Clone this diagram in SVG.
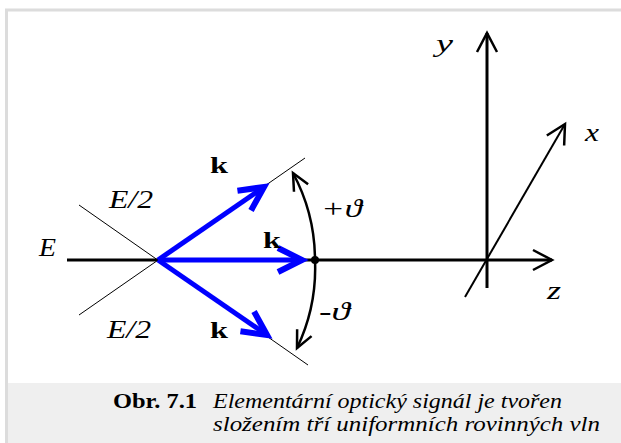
<svg xmlns="http://www.w3.org/2000/svg" width="621" height="443" viewBox="0 0 621 443">
  <style>
    .thin { stroke:#000; stroke-width:1; fill:none; }
    .axis { stroke:#000; stroke-width:3; fill:none; }
    .blue { stroke:#0000ff; stroke-width:5; fill:none; }
  </style>
  <defs>
    <marker id="ab" markerUnits="userSpaceOnUse" orient="auto" markerWidth="40" markerHeight="40" viewBox="-30 -20 40 40" refX="0" refY="0" overflow="visible">
      <path d="M-24,-12 L0,0 L-24,12" stroke="#0000ff" stroke-width="6" fill="none" stroke-linejoin="miter"/>
    </marker>
    <marker id="ak" markerUnits="userSpaceOnUse" orient="auto" markerWidth="40" markerHeight="40" viewBox="-30 -20 40 40" refX="0" refY="0" overflow="visible">
      <path d="M-19,-10 L0,0 L-19,10" stroke="#000" stroke-width="2.5" fill="none"/>
    </marker>
    <marker id="aa" markerUnits="userSpaceOnUse" orient="auto-start-reverse" markerWidth="40" markerHeight="40" viewBox="-30 -20 40 40" refX="0" refY="0" overflow="visible">
      <path d="M-17,-8 L0,0 L-17,8" stroke="#000" stroke-width="2.5" fill="none"/>
    </marker>
  </defs>

  <rect x="0" y="0" width="621" height="443" fill="#fff"/>
  <g id="frame">
    <rect x="8" y="383" width="613" height="60" fill="#efefef"/>
    <line x1="5" y1="10" x2="621" y2="10" stroke="#dcdcdc" stroke-width="3"/>
    <line x1="6.5" y1="9" x2="6.5" y2="443" stroke="#dcdcdc" stroke-width="3"/>
  </g>

  <g id="connectors">
    <line class="thin" x1="79" y1="205" x2="308" y2="365"/>
    <line class="thin" x1="79" y1="315" x2="305" y2="158"/>
    <line class="axis" x1="67" y1="260" x2="552" y2="260" marker-end="url(#ak)"/>
    <line class="axis" x1="487" y1="288" x2="487" y2="33" marker-end="url(#ak)"/>
    <line class="axis" style="stroke-width:2" x1="465" y1="297" x2="565" y2="124" marker-end="url(#ak)"/>
    <line class="blue" x1="158" y1="260" x2="264" y2="187" marker-end="url(#ab)"/>
    <line class="blue" x1="158" y1="260" x2="302" y2="260" marker-end="url(#ab)"/>
    <line class="blue" x1="158" y1="260" x2="267" y2="335" marker-end="url(#ab)"/>
    <path d="M293,173 A185,185 0 0 1 315,260 A185,185 0 0 1 297,348" stroke="#000" stroke-width="2.5" fill="none" marker-start="url(#aa)" marker-end="url(#aa)"/>
  </g>

  <g id="point">
    <circle cx="315" cy="260" r="4" fill="#000"/>
  </g>

  <g id="labels" font-family="Liberation Serif, serif" font-style="italic" font-size="26" fill="#000">
    <text x="39" y="256" textLength="17" lengthAdjust="spacingAndGlyphs">E</text>
    <text x="109" y="208" textLength="44" lengthAdjust="spacingAndGlyphs">E/2</text>
    <text x="107" y="338" textLength="44" lengthAdjust="spacingAndGlyphs">E/2</text>
    <text x="210" y="173" font-style="normal" font-weight="bold" font-size="23" textLength="18" lengthAdjust="spacingAndGlyphs">k</text>
    <text x="263" y="248" font-style="normal" font-weight="bold" font-size="23" textLength="18" lengthAdjust="spacingAndGlyphs">k</text>
    <text x="210" y="338" font-style="normal" font-weight="bold" font-size="23" textLength="18" lengthAdjust="spacingAndGlyphs">k</text>
    <text x="321" y="217" textLength="41" lengthAdjust="spacingAndGlyphs">+ϑ</text>
    <text x="319" y="320" textLength="31" lengthAdjust="spacingAndGlyphs">-ϑ</text>
    <text x="436" y="52" textLength="17" lengthAdjust="spacingAndGlyphs">y</text>
    <text x="585" y="141" textLength="14" lengthAdjust="spacingAndGlyphs">x</text>
    <text x="547" y="299" textLength="14" lengthAdjust="spacingAndGlyphs">z</text>
  </g>

  <g id="caption" font-family="Liberation Serif, serif" font-size="22" fill="#000">
    <text x="113" y="408" font-weight="bold" textLength="84" lengthAdjust="spacingAndGlyphs">Obr. 7.1</text>
    <text x="213" y="408" font-style="italic" textLength="349" lengthAdjust="spacingAndGlyphs">Elementární optický signál je tvořen</text>
    <text x="213" y="431" font-style="italic" textLength="387" lengthAdjust="spacingAndGlyphs">složením tří uniformních rovinných vln</text>
  </g>
</svg>
